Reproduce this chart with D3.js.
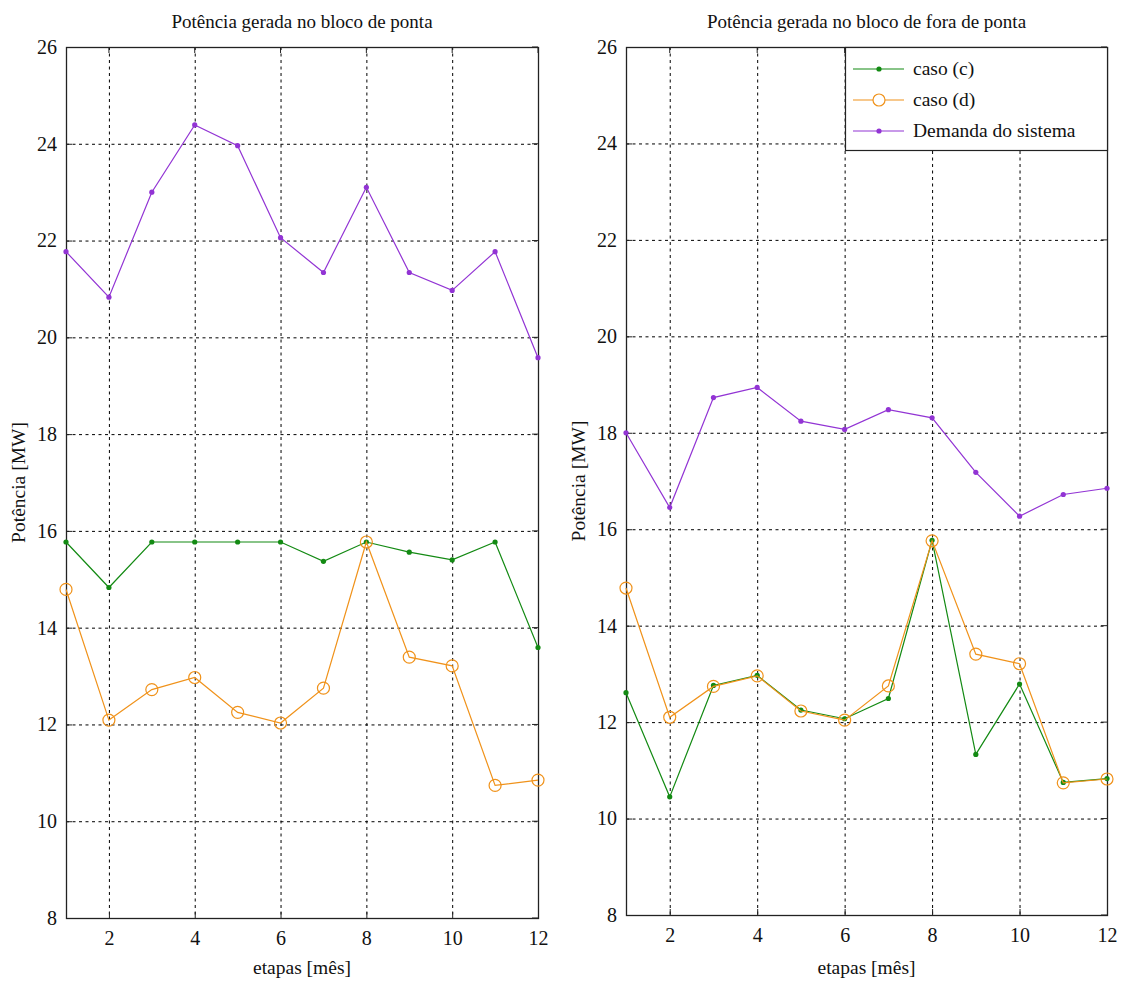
<!DOCTYPE html>
<html>
<head>
<meta charset="utf-8">
<script src="https://cdn.jsdelivr.net/npm/d3@7"></script>
<style>
  html, body { margin: 0; padding: 0; background: #fff; }
  svg text { font-family: "Liberation Serif", "DejaVu Serif", serif; fill: #111; }
</style>
</head>
<body>
<svg id="chart" width="1124" height="981"></svg>
<script>
// ---- data ----
const etapas = [1, 2, 3, 4, 5, 6, 7, 8, 9, 10, 11, 12];
const xTicks = [2, 4, 6, 8, 10, 12];
const yTicks = [8, 10, 12, 14, 16, 18, 20, 22, 24, 26];

const titles = ["Potência gerada no bloco de ponta", "Potência gerada no bloco de fora de ponta"];
const seriesNames = ["caso (c)", "caso (d)", "Demanda do sistema"];

// Left panel (bloco de ponta)
const pontaCasoC   = [15.77, 14.83, 15.77, 15.77, 15.77, 15.77, 15.37, 15.77, 15.56, 15.40, 15.77, 13.59];
const pontaCasoD   = [14.79, 12.09, 12.72, 12.97, 12.25, 12.03, 12.75, 15.77, 13.39, 13.21, 10.74, 10.85];
const pontaDemanda = [21.77, 20.83, 23.00, 24.39, 23.96, 22.06, 21.34, 23.10, 21.34, 20.97, 21.77, 19.58];

// Right panel (bloco de fora de ponta)
const foraCasoC   = [12.61, 10.45, 12.76, 12.97, 12.25, 12.07, 12.49, 15.77, 11.33, 12.79, 10.75, 10.83];
const foraCasoD   = [14.78, 12.10, 12.74, 12.96, 12.23, 12.04, 12.75, 15.76, 13.41, 13.21, 10.74, 10.82];
const foraDemanda = [18.00, 16.45, 18.73, 18.94, 18.24, 18.07, 18.48, 18.31, 17.18, 16.27, 16.72, 16.85];

// ---- styling ----
const colors = ["#138a13", "#f0921a", "#9234d4"];
const svg = d3.select("#chart");

const panels = [
  { left: 66, right: 538, top: 47, bottom: 918, title: titles[0],
    data: [pontaCasoC, pontaCasoD, pontaDemanda], legend: false },
  { left: 626, right: 1107, top: 47, bottom: 915, title: titles[1],
    data: [foraCasoC, foraCasoD, foraDemanda], legend: true }
];

panels.forEach(p => {
  const x = d3.scaleLinear().domain([1, 12]).range([p.left, p.right]);
  const y = d3.scaleLinear().domain([8, 26]).range([p.bottom, p.top]);
  const g = svg.append("g");

  // grid
  g.append("g").selectAll("line").data(xTicks.filter(t => t < 12)).join("line")
    .attr("x1", d => x(d) + 0.5).attr("x2", d => x(d) + 0.5)
    .attr("y1", p.top).attr("y2", p.bottom)
    .attr("stroke", "#000").attr("stroke-width", 1).attr("stroke-dasharray", "3,3.5");
  g.append("g").selectAll("line").data(yTicks.filter(t => t > 8 && t < 26)).join("line")
    .attr("x1", p.left).attr("x2", p.right)
    .attr("y1", d => y(d) + 0.5).attr("y2", d => y(d) + 0.5)
    .attr("stroke", "#000").attr("stroke-width", 1).attr("stroke-dasharray", "3,3.5");

  // axes via d3
  const xAxis = d3.axisBottom(x).tickValues(xTicks).tickSizeInner(-6).tickSizeOuter(0).tickPadding(13);
  const yAxis = d3.axisLeft(y).tickValues(yTicks).tickSizeInner(-6).tickSizeOuter(0).tickPadding(9);
  const gx = g.append("g").attr("transform", `translate(0,${p.bottom})`).call(xAxis);
  const gy = g.append("g").attr("transform", `translate(${p.left},0)`).call(yAxis);
  [gx, gy].forEach(a => {
    a.attr("font-family", '"Liberation Serif", serif').attr("font-size", 20);
    a.select(".domain").remove();
    a.selectAll("line").attr("stroke", "#222");
    a.selectAll("text").attr("fill", "#111");
  });
  // top ticks and right ticks
  g.append("g").selectAll("line").data(xTicks).join("line")
    .attr("x1", d => x(d)).attr("x2", d => x(d)).attr("y1", p.top).attr("y2", p.top + 6)
    .attr("stroke", "#222");
  g.append("g").selectAll("line").data(yTicks).join("line")
    .attr("x1", p.right).attr("x2", p.right - 6).attr("y1", d => y(d)).attr("y2", d => y(d))
    .attr("stroke", "#222");

  // box
  g.append("rect").attr("x", p.left + 0.5).attr("y", p.top + 0.5)
    .attr("width", p.right - p.left).attr("height", p.bottom - p.top)
    .attr("fill", "none").attr("stroke", "#222").attr("stroke-width", 1.3);

  // title & labels
  g.append("text").attr("x", (p.left + p.right) / 2).attr("y", 28)
    .attr("text-anchor", "middle").attr("font-size", 19).text(p.title);
  g.append("text").attr("x", (p.left + p.right) / 2).attr("y", 974)
    .attr("text-anchor", "middle").attr("font-size", 19.5).text("etapas [mês]");
  g.append("text").attr("transform", `translate(${p.left - 41},${(p.top + p.bottom) / 2}) rotate(-90)`)
    .attr("text-anchor", "middle").attr("font-size", 19.5).text("Potência [MW]");

  // series
  const line = d3.line().x((d, i) => x(etapas[i])).y(d => y(d));
  p.data.forEach((vals, si) => {
    g.append("path").datum(vals).attr("d", line)
      .attr("fill", "none").attr("stroke", colors[si]).attr("stroke-width", 1.2);
    if (si === 1) {
      g.append("g").selectAll("circle").data(vals).join("circle")
        .attr("cx", (d, i) => x(etapas[i])).attr("cy", d => y(d)).attr("r", 6)
        .attr("fill", "none").attr("stroke", colors[si]).attr("stroke-width", 1.2);
    } else {
      g.append("g").selectAll("circle").data(vals).join("circle")
        .attr("cx", (d, i) => x(etapas[i])).attr("cy", d => y(d)).attr("r", 2.6)
        .attr("fill", colors[si]).attr("stroke", "none");
    }
  });

  // legend
  if (p.legend) {
    const lx = 845, ly = 47, lw = p.right - lx, lh = 103;
    const lg = g.append("g");
    lg.append("rect").attr("x", lx + 0.5).attr("y", ly + 0.5).attr("width", lw).attr("height", lh)
      .attr("fill", "#fff").attr("stroke", "#222").attr("stroke-width", 1.2);
    seriesNames.forEach((name, si) => {
      const yy = ly + 22 + si * 31;
      lg.append("line").attr("x1", lx + 8).attr("x2", lx + 59).attr("y1", yy).attr("y2", yy)
        .attr("stroke", colors[si]).attr("stroke-width", 1.2);
      if (si === 1) {
        lg.append("circle").attr("cx", lx + 34).attr("cy", yy).attr("r", 6)
          .attr("fill", "#fff").attr("stroke", colors[si]).attr("stroke-width", 1.2);
      } else {
        lg.append("circle").attr("cx", lx + 34).attr("cy", yy).attr("r", 2.6).attr("fill", colors[si]);
      }
      lg.append("text").attr("x", lx + 68).attr("y", yy + 6).attr("font-size", 19.5).text(name);
    });
  }
});
</script>
</body>
</html>
